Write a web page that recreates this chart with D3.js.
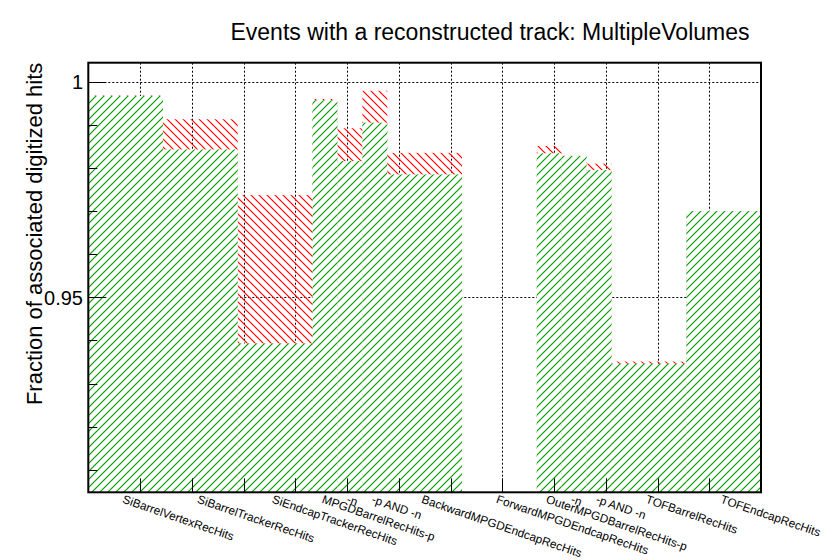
<!DOCTYPE html>
<html>
<head>
<meta charset="utf-8">
<script src="https://cdn.jsdelivr.net/npm/d3@7"></script>
<style>
  body { margin: 0; background: #fff; }
  svg { display: block; font-family: "Liberation Sans", Arial, sans-serif; }
</style>
</head>
<body>
<svg id="chart" width="835" height="560"></svg>
<script>
// bin labels (alphanumeric axis)
const labels = [
    "SiBarrelVertexRecHits", "SiBarrelTrackerRecHits", "SiEndcapTrackerRecHits",
    "MPGDBarrelRecHits-p", "-n", "-p AND -n",
    "BackwardMPGDEndcapRecHits", "ForwardMPGDEndcapRecHits",
    "OuterMPGDBarrelRecHits-p", "-n", "-p AND -n",
    "TOFBarrelRecHits", "TOFEndcapRecHits"
];
// variable bin edges (MPGD barrel groups split in three)
const binEdges = [0, 1, 2, 3, 10 / 3, 11 / 3, 4, 5, 6, 19 / 3, 20 / 3, 7, 8, 9];
// green hatched histogram
const greenValues = [0.9967, 0.9843, 0.9393, 0.9957, 0.9816, 0.9905, 0.9785, 0, 0.9834, 0.9828, 0.9795, 0.9346, 0.9700];
// red hatched histogram (drawn underneath)
const redValues = [0.9968, 0.9913, 0.9737, 0.9960, 0.9892, 0.9979, 0.9835, 0, 0.9851, 0.9828, 0.9810, 0.9351, 0.9700];
const yMajorTicks = [0.95, 1];
const yMinorTicks = [0.91, 0.92, 0.93, 0.94, 0.96, 0.97, 0.98, 0.99];
const yRange = [0.90478, 1.00441];

const svg = d3.select("#chart");
const fL = 88.3, fR = 761, fT = 62.7, fB = 492.3;

const x = d3.scaleLinear().domain([0, 9]).range([fL, fR]);
const xDiv = d3.scaleLinear().domain([0, labels.length]).range([fL, fR]); // axis divisions
const y = d3.scaleLinear().domain(yRange).range([fB, fT]);

const defs = svg.append("defs");
defs.append("clipPath").attr("id", "frame")
    .append("rect")
    .attr("x", fL).attr("y", fT)
    .attr("width", fR - fL).attr("height", fB - fT);

function hatch(id, color, d) {
    const p = defs.append("pattern")
        .attr("id", id)
        .attr("patternUnits", "userSpaceOnUse")
        .attr("width", 8).attr("height", 8);
    p.append("path")
        .attr("d", d)
        .attr("fill", "none")
        .attr("stroke", color)
        .attr("stroke-width", 1.2);
}
hatch("hatchGreen", "rgb(0,160,0)", "M0,8L8,0M-4,4L4,-4M4,12L12,4");
hatch("hatchRed", "rgb(255,0,0)", "M0,0L8,8M-4,4L4,12M4,-4L12,4");

// grid
const grid = svg.append("g")
    .attr("stroke", "#000")
    .attr("stroke-width", 1)
    .attr("stroke-dasharray", "2,2");
grid.selectAll("line.vx")
    .data(d3.range(1, labels.length))
    .join("line")
    .attr("x1", d => Math.round(xDiv(d)) + 0.5).attr("x2", d => Math.round(xDiv(d)) + 0.5)
    .attr("y1", fT).attr("y2", fB);
grid.selectAll("line.hy")
    .data(yMajorTicks)
    .join("line")
    .attr("x1", fL).attr("x2", fR)
    .attr("y1", d => Math.round(y(d)) + 0.5).attr("y2", d => Math.round(y(d)) + 0.5);

const bins = labels.map((l, i) => ({
    label: l, x0: binEdges[i], x1: binEdges[i + 1], green: greenValues[i], red: redValues[i]
}));

const plot = svg.append("g").attr("clip-path", "url(#frame)");

// red first (transparent hatch)
plot.selectAll("rect.red")
    .data(bins.filter(d => d.red > yRange[0]))
    .join("rect")
    .attr("class", "red")
    .attr("x", d => x(d.x0))
    .attr("width", d => x(d.x1) - x(d.x0))
    .attr("y", d => y(d.red))
    .attr("height", d => y(yRange[0]) - y(d.red))
    .attr("fill", "url(#hatchRed)");

// green on top, opaque background
const greenBins = bins.filter(d => d.green > yRange[0]);
plot.selectAll("rect.greenbg")
    .data(greenBins)
    .join("rect")
    .attr("class", "greenbg")
    .attr("x", d => x(d.x0))
    .attr("width", d => x(d.x1) - x(d.x0))
    .attr("y", d => y(d.green))
    .attr("height", d => y(yRange[0]) - y(d.green))
    .attr("fill", "#fff");
plot.selectAll("rect.green")
    .data(greenBins)
    .join("rect")
    .attr("class", "green")
    .attr("x", d => x(d.x0))
    .attr("width", d => x(d.x1) - x(d.x0))
    .attr("y", d => y(d.green))
    .attr("height", d => y(yRange[0]) - y(d.green))
    .attr("fill", "url(#hatchGreen)");

// x ticks
svg.append("g")
    .selectAll("line")
    .data(d3.range(1, labels.length))
    .join("line")
    .attr("x1", d => Math.round(xDiv(d)) + 0.5).attr("x2", d => Math.round(xDiv(d)) + 0.5)
    .attr("y1", fB).attr("y2", fB - 14)
    .attr("stroke", "#000");

// y ticks
svg.append("g")
    .selectAll("line")
    .data(yMajorTicks.map(v => [v, 18]).concat(yMinorTicks.map(v => [v, 9])))
    .join("line")
    .attr("x1", fL).attr("x2", d => fL + d[1])
    .attr("y1", d => Math.round(y(d[0])) + 0.5).attr("y2", d => Math.round(y(d[0])) + 0.5)
    .attr("stroke", "#000");

// frame
svg.append("rect")
    .attr("x", fL).attr("y", fT)
    .attr("width", fR - fL).attr("height", fB - fT)
    .attr("fill", "none")
    .attr("stroke", "#000")
    .attr("stroke-width", 2);

// y tick labels
svg.append("g")
    .selectAll("text")
    .data(yMajorTicks)
    .join("text")
    .attr("x", 83)
    .attr("y", d => y(d))
    .attr("dy", "0.36em")
    .attr("text-anchor", "end")
    .attr("font-size", 20)
    .text(d => d3.format("~g")(d));

// x labels, left-aligned at bin centres, rotated
svg.append("g")
    .selectAll("text")
    .data(bins)
    .join("text")
    .attr("transform", d => `translate(${x((d.x0 + d.x1) / 2) - 1},${fB + 2}) rotate(19)`)
    .attr("dominant-baseline", "hanging")
    .attr("font-size", 11.8)
    .text(d => d.label);

// titles
svg.append("text")
    .attr("x", 490).attr("y", 40)
    .attr("text-anchor", "middle")
    .attr("font-size", 23)
    .text("Events with a reconstructed track: MultipleVolumes");

svg.append("text")
    .attr("transform", `translate(42,${fT}) rotate(-90)`)
    .attr("text-anchor", "end")
    .attr("font-size", 22)
    .text("Fraction of associated digitized hits");
</script>
</body>
</html>
